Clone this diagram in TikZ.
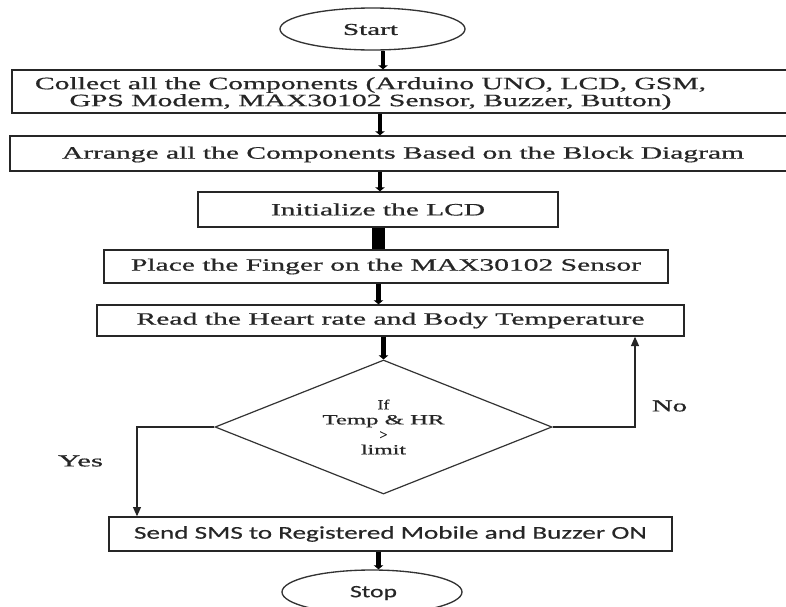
\documentclass[tikz,border=0pt]{standalone}
\usepackage{fontspec}
\setmainfont{Liberation Serif}[FakeBold=0.6]
\newfontfamily\calib{Carlito}[FakeBold=0.3]
\usetikzlibrary{shapes.geometric,arrows.meta}
\newcommand{\fw}[2]{\resizebox{\dimexpr#1pt*3/4\relax}{\height}{#2}}
\begin{document}
\begin{tikzpicture}[x=0.75pt,y=-0.75pt,
  box/.style={draw=black!85, line width=1pt, rectangle, inner sep=0pt},
  term/.style={draw=black!80, line width=1pt, ellipse, inner sep=0pt},
  dec/.style={diamond, aspect=2.5, draw=black!80, line width=0.9pt, inner sep=0pt, align=center,
    font=\fontsize{10.5}{11.25}\selectfont},
  txt/.style={inner sep=0pt, text=black!85, font=\fontsize{13}{12.75}\selectfont},
  lbl/.style={inner sep=0pt, text=black!85, font=\fontsize{12.5}{14}\selectfont},
  conn/.style={line width=3.4pt, black, -{Triangle[length=3pt,width=7pt]}},
  fat/.style={line width=9.5pt, black},
  flow/.style={line width=0.8pt, black!85, -{Triangle[length=7pt,width=6pt]}}]
\path[fill=white, use as bounding box] (0,0) rectangle (786,607);

% nodes
\node[term, minimum width=0.75pt*185, minimum height=0.75pt*42] (start) at (372.5,29) {};
\node[txt, font=\fontsize{12.5}{14}\selectfont] (startt) at (370.5,29.5) {\fw{55}{Start}};

\node[box, minimum width=0.75pt*780, minimum height=0.75pt*43] (b1) at (402,91.5) {};
\node[txt, align=center] (b1t) at (370.5,93.5) {\fw{671}{Collect all the Components (Arduino UNO, LCD, GSM,}\\\fw{602}{GPS Modem, MAX30102 Sensor, Buzzer, Button)}};

\node[box, minimum width=0.75pt*781, minimum height=0.75pt*35] (b2) at (400.5,153.5) {};
\node[txt] (b2t) at (403,154.5) {\fw{682}{Arrange all the Components Based on the Block Diagram}};

\node[box, txt, draw=black!85, minimum width=0.75pt*360, minimum height=0.75pt*35] (b3) at (378,209.5) {\fw{214}{Initialize the LCD}};
\node[box, txt, draw=black!85, minimum width=0.75pt*564, minimum height=0.75pt*33] (b4) at (386,266.5) {\fw{510}{Place the Finger on the MAX30102 Sensor}};
\node[box, txt, draw=black!85, minimum width=0.75pt*587, minimum height=0.75pt*31] (b5) at (390.5,320.5) {\fw{508}{Read the Heart rate and Body Temperature}};

\node[dec, text=black!85, minimum width=0.75pt*337, minimum height=0.75pt*134] (d) at (383.5,427) {\fw{12}{If}\\\fw{122}{Temp \& HR}\\\fw{8}{>}\\\fw{45}{limit}};

\node[box, txt, draw=black!85, font=\calib\fontsize{13.5}{15}\selectfont, minimum width=0.75pt*563, minimum height=0.75pt*34] (b6) at (390.5,534) {\fw{513}{Send SMS to Registered Mobile and Buzzer ON}};

\node[term, minimum width=0.75pt*180, minimum height=0.75pt*44] (stop) at (372,592) {};
\node[txt, font=\calib\fontsize{13}{15}\selectfont] (stopt) at (373.5,593) {\fw{47}{Stop}};

\node[lbl] (no) at (669.5,406) {\fw{35}{No}};
\node[lbl] (yes) at (80.5,461) {\fw{45}{Yes}};

% connectors
\coordinate (sp) at (380,0);
\coordinate (sp0) at (383,0);
\coordinate (sp3) at (378.5,0);
\coordinate (noc) at (635,0);
\coordinate (yesc) at (137,0);
\draw[conn] (start.south -| sp0) -- (b1.north -| sp0);
\draw[conn] (b1.south -| sp) -- (b2.north -| sp);
\draw[conn] (b2.south -| sp) -- (b3.north -| sp);
\draw[fat] (b3.south -| sp3) -- (b4.north -| sp3);
\draw[conn] (b4.south -| sp3) -- (b5.north -| sp3);
\draw[conn] (b5.south -| d.north) -- (d.north);
\draw[conn] (b6.south -| sp3) -- (stop.north -| sp3);
\draw[flow] (d.east) -- (d.east -| noc) -- (b5.south -| noc);
\draw[flow] (d.west) -- (d.west -| yesc) -- (b6.north -| yesc);
\end{tikzpicture}
\end{document}
